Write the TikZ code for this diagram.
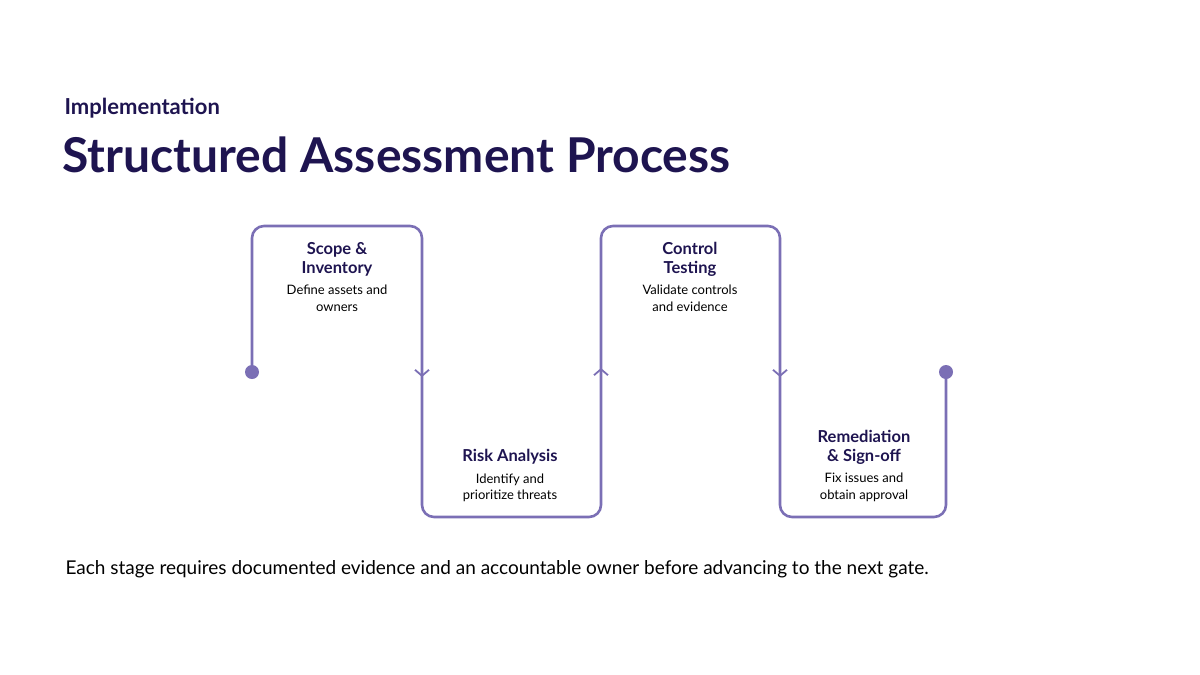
\documentclass[tikz,border=0pt]{standalone}
\usepackage{fontspec}
\setmainfont{Lato}
\usetikzlibrary{arrows.meta,positioning,calc}
\definecolor{ink}{HTML}{1E1450}
\definecolor{track}{HTML}{7B6FB5}
\begin{document}
\begin{tikzpicture}[x=1pt, y=-1pt, >=Latex]
\tikzstyle{trk}=[draw=track, line width=2.6pt, rounded corners=12pt]
\tikzstyle{tip}=[draw=track, line width=1.8pt, -{Straight Barb[length=6pt,width=14pt]}]
\tikzstyle{ttl}=[text=ink, font=\fontsize{16.5}{19}\selectfont\bfseries, align=center]
\tikzstyle{dsc}=[text=black, font=\fontsize{13}{16.5}\selectfont, align=center]
\useasboundingbox (0,0) rectangle (1200,675);

\node[anchor=base west, text=ink, font=\fontsize{22}{26}\selectfont\bfseries] (kick) at (61,114) {Implementation};
\node[anchor=base west, text=ink, font=\fontsize{48}{54}\selectfont\bfseries] (title) at (59,172) {Structured Assessment Process};

\coordinate (start) at (252,372);
\coordinate (end) at (946,372);
\draw[trk] (start) -- (252,226) -- (422,226) -- (422,517) -- (601,517) -- (601,226) -- (780,226) -- (780,517) -- (946,517) -- (end);
\fill[track] (start) circle (7pt);
\fill[track] (end) circle (7pt);

% direction marks
\coordinate (a1) at (422,377);
\coordinate (a2) at (601,368);
\coordinate (a3) at (780,377);
\draw[tip] ($(a1)+(0,-4)$) -- (a1);
\draw[tip] ($(a2)+(0,4)$) -- (a2);
\draw[tip] ($(a3)+(0,-4)$) -- (a3);

\node[ttl] (s1) at (337,259) {Scope \&\\Inventory};
\node[dsc, below=2pt of s1] (d1) {Define assets and\\owners};
\node[ttl] (s2) at (510,457) {Risk Analysis};
\node[dsc, below=2pt of s2] (d2) {Identify and\\prioritize threats};
\node[ttl] (s3) at (690,259) {Control\\Testing};
\node[dsc, below=2pt of s3] (d3) {Validate controls\\and evidence};
\node[ttl] (s4) at (864,447) {Remediation\\\& Sign-off};
\node[dsc, below=2pt of s4] (d4) {Fix issues and\\obtain approval};

\node[anchor=base west, font=\fontsize{19}{22}\selectfont] (note) at (62,574) {Each stage requires documented evidence and an accountable owner before advancing to the next gate.};
\end{tikzpicture}
\end{document}
